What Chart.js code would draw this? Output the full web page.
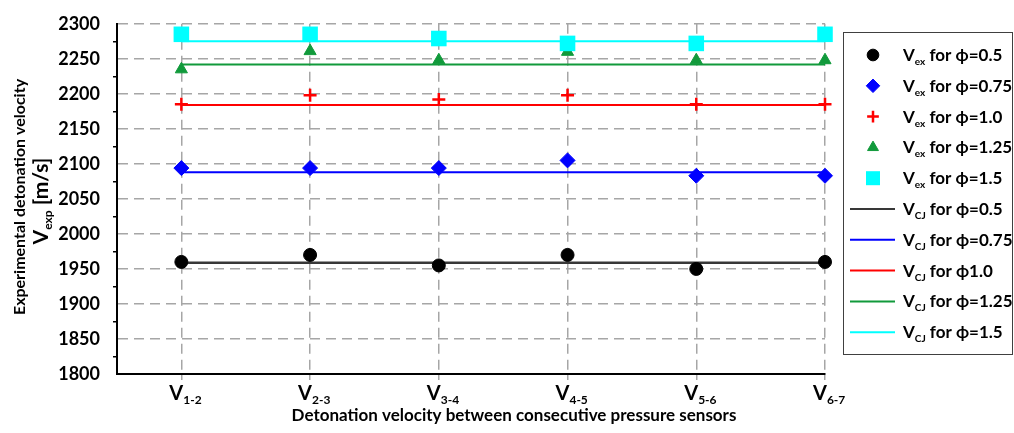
<!DOCTYPE html>
<html>
<head>
<meta charset="utf-8">
<script src="https://cdn.jsdelivr.net/npm/chart.js@4.4.0/dist/chart.umd.min.js"></script>
<style>
  html, body { margin: 0; padding: 0; background: #fff; }
  #wrap { width: 1014px; height: 433px; position: relative; }
</style>
</head>
<body>
<div id="wrap"><canvas id="detChart"></canvas></div>
<script>
// x categories: subscripts of V (sensor pairs)
const sensorPairs = ['1-2', '2-3', '3-4', '4-5', '5-6', '6-7'];

// measured detonation velocity V_ex [m/s], one array per phi
const vexPhi050 = [1960, 1970, 1955, 1970, 1950, 1960];
const vexPhi075 = [2094, 2094, 2094, 2105, 2083, 2083];
const vexPhi100 = [2185, 2198, 2192, 2198, 2185, 2185];
const vexPhi125 = [2235, 2261, 2248, 2260, 2248, 2248];
const vexPhi150 = [2285, 2285, 2279, 2272, 2272, 2285];

// CJ velocity [m/s] for phi = 0.5, 0.75, 1.0, 1.25, 1.5
const vcj = [1959, 2088, 2184, 2242, 2275];

// legend texts (after the V symbol)
const vexLegend = ['for ϕ=0.5', 'for ϕ=0.75', 'for ϕ=1.0', 'for ϕ=1.25', 'for ϕ=1.5'];
const vcjLegend = ['for ϕ=0.5', 'for ϕ=0.75', 'for ϕ1.0', 'for ϕ=1.25', 'for ϕ=1.5'];

// y axis range / ticks
const yMin = 1800, yMax = 2300, yMajor = 50, yMinor = 25;

// styles
const markerColors = ['#000000', '#0000ff', '#ff0000', '#119a3b', '#00ffff'];
const lineColors = ['#383838', '#0000ff', '#ff0000', '#119a3b', '#00ffff'];
const markers = [
  { pointStyle: 'circle', radius: 6.5, borderWidth: 1 },
  { pointStyle: 'rectRot', radius: 7.5, borderWidth: 1 },
  { pointStyle: 'cross', radius: 6.5, borderWidth: 2.5 },
  { pointStyle: 'triangle', radius: 7, borderWidth: 1 },
  { pointStyle: 'rect', radius: 11, borderWidth: 0 }
];
const FAMILY = 'Lato, "Open Sans", sans-serif';
const F = size => 'bold ' + size + 'px ' + FAMILY;

const vexAll = [vexPhi050, vexPhi075, vexPhi100, vexPhi125, vexPhi150];
const datasets = [];

// V_ex markers (lower order = drawn on top)
vexAll.forEach((vals, i) => {
  datasets.push({
    label: 'Vex ' + vexLegend[i],
    data: vals.map((v, k) => ({ x: k + 1, y: v })),
    showLine: false,
    clip: false,
    order: 4 - i,
    pointStyle: markers[i].pointStyle,
    pointRadius: markers[i].radius,
    pointBorderWidth: markers[i].borderWidth,
    pointBackgroundColor: markerColors[i],
    pointBorderColor: markerColors[i]
  });
});

// V_CJ lines
vcj.forEach((v, i) => {
  datasets.push({
    type: 'line',
    label: 'VCJ ' + vcjLegend[i],
    data: sensorPairs.map((p, k) => ({ x: k + 1, y: v })),
    order: 20 - i,
    clip: false,
    borderColor: lineColors[i],
    borderWidth: i === 0 ? 2.5 : 2,
    pointRadius: 0,
    fill: false,
    tension: 0
  });
});

// helpers for text with subscripts
function runsWidth(ctx, runs) {
  let w = 0;
  runs.forEach(r => { ctx.font = r.font; w += ctx.measureText(r.text).width; });
  return w;
}
function drawRuns(ctx, runs, x, y) {
  runs.forEach(r => {
    ctx.font = r.font;
    ctx.fillText(r.text, x, y + (r.dy || 0));
    x += ctx.measureText(r.text).width;
  });
}

// x labels, axis titles and the boxed legend
const decorPlugin = {
  id: 'decor',
  afterDraw(chart) {
    const ctx = chart.ctx;
    const xs = chart.scales.x;
    ctx.save();
    ctx.fillStyle = '#000';
    ctx.textAlign = 'left';
    ctx.textBaseline = 'alphabetic';

    // x tick labels V_{i-j}
    sensorPairs.forEach((p, i) => {
      const px = xs.getPixelForValue(i + 1);
      drawRuns(ctx, [{ text: 'V', font: F(20) }, { text: p, font: F(12), dy: 4 }], px - 12, 400);
    });

    // x title
    const xt = [{ text: 'Detonation velocity between consecutive pressure sensors', font: F(17) }];
    drawRuns(ctx, xt, 514 - runsWidth(ctx, xt) / 2, 421);

    // y title, two lines rotated
    const yt1 = [{ text: 'Experimental detonation velocity', font: F(16) }];
    ctx.save();
    ctx.translate(25, 197);
    ctx.rotate(-Math.PI / 2);
    drawRuns(ctx, yt1, -runsWidth(ctx, yt1) / 2, 0);
    ctx.restore();
    const yt2 = [
      { text: 'V', font: F(21) },
      { text: 'exp', font: F(12), dy: 4 },
      { text: ' [m/s]', font: F(21) }
    ];
    ctx.save();
    ctx.translate(48, 201);
    ctx.rotate(-Math.PI / 2);
    drawRuns(ctx, yt2, -runsWidth(ctx, yt2) / 2, 0);
    ctx.restore();

    // legend box
    const lx = 843, ly = 32, lw = 170, lh = 322, row0 = 55, rowStep = 30.8;
    ctx.strokeStyle = '#404040';
    ctx.lineWidth = 1;
    ctx.strokeRect(lx + 0.5, ly + 0.5, lw - 1, lh);

    for (let i = 0; i < 5; i++) {
      const y = row0 + i * rowStep;
      ctx.fillStyle = markerColors[i];
      ctx.strokeStyle = markerColors[i];
      ctx.lineWidth = markers[i].borderWidth;
      Chart.helpers.drawPoint(ctx, {
        pointStyle: markers[i].pointStyle,
        radius: markers[i].radius * 0.9,
        rotation: 0,
        borderWidth: markers[i].borderWidth
      }, 873, y);
      ctx.fillStyle = '#000';
      drawRuns(ctx, [
        { text: 'V', font: F(17) },
        { text: 'ex', font: F(10), dy: 4 },
        { text: ' ' + vexLegend[i], font: F(17) }
      ], 903, y + 6);
    }
    for (let i = 0; i < 5; i++) {
      const y = row0 + (5 + i) * rowStep;
      ctx.strokeStyle = lineColors[i];
      ctx.lineWidth = 2;
      ctx.beginPath();
      ctx.moveTo(850, y);
      ctx.lineTo(895, y);
      ctx.stroke();
      ctx.fillStyle = '#000';
      drawRuns(ctx, [
        { text: 'V', font: F(17) },
        { text: 'CJ', font: F(10), dy: 4 },
        { text: ' ' + vcjLegend[i], font: F(17) }
      ], 903, y + 6);
    }
    ctx.restore();
  }
};

const ctx = document.getElementById('detChart').getContext('2d');
const detChart = new Chart(ctx, {
  type: 'scatter',
  data: { datasets: datasets },
  options: {
    responsive: true,
    maintainAspectRatio: false,
    animation: false,
    layout: { padding: { left: 0, top: 19, right: 189, bottom: 0 } },
    plugins: {
      legend: { display: false },
      tooltip: { enabled: false }
    },
    scales: {
      x: {
        type: 'linear',
        min: 0.5,
        max: 6,
        afterBuildTicks: s => { s.ticks = sensorPairs.map((p, i) => ({ value: i + 1 })); },
        afterFit: s => { s.height = 59; },
        ticks: { display: false },
        grid: {
          color: '#a6a6a6',
          lineWidth: 1.5,
          tickLength: 6,
          tickColor: '#a6a6a6',
          tickWidth: 1.5
        },
        border: { display: true, color: '#000', width: 2, dash: [10, 6] }
      },
      y: {
        min: yMin,
        max: yMax,
        afterFit: s => { s.width = 117; },
        ticks: {
          stepSize: yMinor,
          autoSkip: false,
          padding: 13,
          color: '#000',
          font: { family: FAMILY, size: 18, weight: 'bold' },
          callback: v => (v % yMajor === 0 ? String(v) : '')
        },
        grid: {
          color: c => (c.tick && c.tick.value % yMajor === 0) ? '#a6a6a6' : 'rgba(0,0,0,0)',
          lineWidth: 1.5,
          tickLength: 4,
          tickColor: c => (c.tick && c.tick.value % yMajor === 0) ? 'rgba(0,0,0,0)' : '#000',
          tickWidth: 1.5
        },
        border: { display: true, color: '#000', width: 2, dash: [10, 6] }
      }
    }
  },
  plugins: [decorPlugin]
});
</script>
</body>
</html>
